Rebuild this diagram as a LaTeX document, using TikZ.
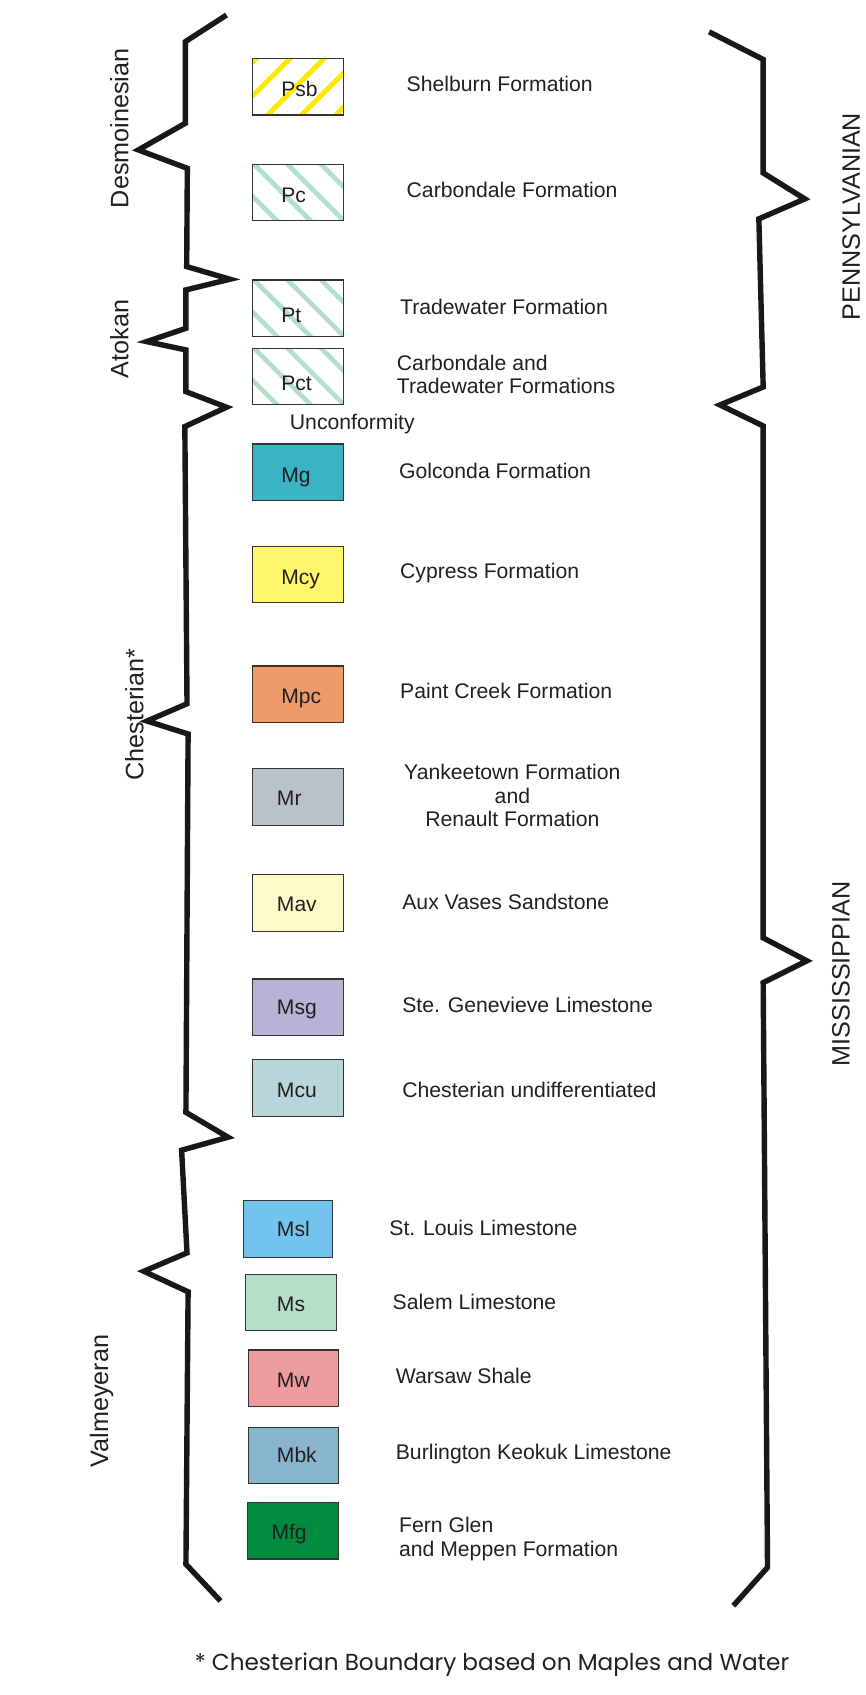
\documentclass[tikz,border=0pt]{standalone}
\usepackage{fontspec}
\usepackage{graphicx}
\setmainfont{Liberation Sans}
\newfontfamily\footfont{Poppins}
\definecolor{txt}{HTML}{231F20}
\definecolor{bracecol}{HTML}{1A1717}
\definecolor{boxedge}{HTML}{333333}
\definecolor{stripeY}{HTML}{FFE800}
\definecolor{stripeG}{HTML}{B3E0C8}
\definecolor{cMg}{HTML}{3AB3C3}
\definecolor{cMcy}{HTML}{FEF76C}
\definecolor{cMpc}{HTML}{EE9A6A}
\definecolor{cMr}{HTML}{B9C2C9}
\definecolor{cMav}{HTML}{FFFBC8}
\definecolor{cMsg}{HTML}{B7B2D6}
\definecolor{cMcu}{HTML}{B8D5D9}
\definecolor{cMsl}{HTML}{72C4EE}
\definecolor{cMs}{HTML}{B5DFC8}
\definecolor{cMw}{HTML}{EE9BA0}
\definecolor{cMbk}{HTML}{89B4CF}
\definecolor{cMfg}{HTML}{008C3C}
\begin{document}
\begin{tikzpicture}[x=1pt,y=-1pt,
  brace/.style={line width=5pt, draw=bracecol, line join=miter, miter limit=10},
  unitbox/.style={draw=boxedge, line width=1pt, minimum width=84pt, minimum height=52.4pt, inner sep=0pt, outer sep=0pt},
  boxlbl/.style={anchor=base west, inner sep=0pt, font=\fontsize{19.5}{21.6}\selectfont, text=txt},
  lbl/.style={anchor=base west, inner sep=0pt, font=\fontsize{19.6}{21.6}\selectfont, text=txt},
  clbl/.style={anchor=base, inner sep=0pt, font=\fontsize{19.6}{21.6}\selectfont, text=txt},
  era/.style={rotate=90, anchor=base, inner sep=0pt, font=\fontsize{23.3}{26}\selectfont, text=txt},
  ystripe/.style={draw=stripeY, line width=4.6pt},
  gstripe/.style={draw=stripeG, line width=4.3pt},
  foot/.style={anchor=base, inner sep=0pt, text=txt}
]
\useasboundingbox (0,0) rectangle (801,1568);

% ---------- braces ----------
\draw[brace] (209.6,13.9) -- (171.5,38.5) -- (171.5,114) -- (128,138.7) -- (173.3,155.7)
  -- (172.7,246.6) -- (212.7,258.3) -- (172,268.2) -- (172,303.7) -- (135.7,316)
  -- (172,323.7) -- (172,362.3) -- (209.6,376.7) -- (171,394.6) -- (173,651)
  -- (136,667) -- (174,679) -- (172,1029) -- (211,1052) -- (168,1064) -- (173,1159)
  -- (133,1176) -- (174,1195) -- (172,1447) -- (204,1481);
\draw[brace] (656,29.5) -- (706,55) -- (706,160) -- (744.5,184) -- (702,202.5)
  -- (706,358) -- (666,374.6) -- (706,394) -- (706,867.6) -- (746.4,888.8)
  -- (706,909) -- (710,1450) -- (678.4,1485.4);

% ---------- era labels ----------
\node[era] (desm) at (118.7,118.7) {Desmoinesian};
\node[era] (atok) at (118.7,313.6) {Atokan};
\node[era] (chest) at (132.6,661) {Chesterian*};
\node[era] (valm) at (100,1296) {Valmeyeran};
\node[era] (penn) at (795.4,200.4) {PENNSYLVANIAN};
\node[era] (miss) at (786,901) {MISSISSIPPIAN};

% ---------- hatched boxes ----------
\node[unitbox] (Psb) at (276,80.2) {};
\begin{scope}
  \clip (Psb.south west) rectangle (Psb.north east);
  \foreach \s in {3,34.5,66,97.5,129}
    \draw[ystripe] (234+\s+20,54-20) -- (234+\s-80,54+80);
\end{scope}
\node[unitbox] at (Psb) {};

\foreach \nm/\cy in {Pc/178.2, Pt/285.2, Pct/348.3}{
  \node[unitbox] (\nm) at (276,\cy) {};
  \begin{scope}
    \clip (\nm.south west) rectangle (\nm.north east);
    \foreach \d in {-30,1,32,63}
      \draw[gstripe] (234+\d-20,\cy-26.2-20) -- (234+\d+80,\cy-26.2+80);
  \end{scope}
  \node[unitbox] at (\nm) {};
}

% ---------- coloured boxes ----------
\node[unitbox, fill=cMg]  (Mg)  at (276,436.9) {};
\node[unitbox, fill=cMcy] (Mcy) at (276,531.4) {};
\node[unitbox, fill=cMpc] (Mpc) at (276,642.3) {};
\node[unitbox, fill=cMr]  (Mr)  at (276,737.5) {};
\node[unitbox, fill=cMav] (Mav) at (276,835.2) {};
\node[unitbox, fill=cMsg] (Msg) at (276,931.8) {};
\node[unitbox, fill=cMcu] (Mcu) at (276,1006.5) {};
\node[unitbox, fill=cMsl, minimum width=83pt] (Msl) at (266.5,1137) {};
\node[unitbox, fill=cMs, minimum width=83.5pt]  (Ms)  at (269.2,1205) {};
\node[unitbox, fill=cMw, minimum width=83.5pt]  (Mw)  at (271.7,1275) {};
\node[unitbox, fill=cMbk, minimum width=83.5pt] (Mbk) at (271.7,1346.5) {};
\node[unitbox, fill=cMfg, minimum width=84.5pt] (Mfg) at (271.2,1416) {};

% ---------- box labels ----------
\node[boxlbl] (lPsb) at (260,89.4) {Psb};
\node[boxlbl] (lPc)  at (260,187.1) {Pc};
\node[boxlbl] (lPt)  at (260,298.4) {Pt};
\node[boxlbl] (lPct) at (260,361.3) {Pct};
\node[boxlbl] (lMg)  at (260,446) {Mg};
\node[boxlbl] (lMcy) at (260,540.4) {Mcy};
\node[boxlbl] (lMpc) at (260,650.8) {Mpc};
\node[boxlbl] (lMr)  at (256,745) {Mr};
\node[boxlbl] (lMav) at (256,843.2) {Mav};
\node[boxlbl] (lMsg) at (256,938.7) {Msg};
\node[boxlbl] (lMcu) at (256,1015) {Mcu};
\node[boxlbl] (lMsl) at (256,1144) {Msl};
\node[boxlbl] (lMs)  at (256,1212.8) {Ms};
\node[boxlbl] (lMw)  at (256,1283.2) {Mw};
\node[boxlbl] (lMbk) at (256,1353) {Mbk};
\node[boxlbl] (lMfg) at (251,1423.7) {Mfg};

% ---------- formation names ----------
\node[lbl] (tPsb) at (376,85) {Shelburn Formation};
\node[lbl] (tPc)  at (376,183) {Carbondale Formation};
\node[lbl] (tPt)  at (370,291) {Tradewater Formation};
\node[lbl] (tPct1) at (367,342.8) {Carbondale and};
\node[lbl] (tPct2) at (367,364.4) {Tradewater Formations};
\node[lbl] (unconf) at (268,397.7) {Unconformity};
\node[lbl] (tMg)  at (369,443) {Golconda Formation};
\node[lbl] (tMcy) at (370,535) {Cypress Formation};
\node[lbl] (tMpc) at (370,646) {Paint Creek Formation};
\node[clbl] (tMr1) at (474,721.5) {Yankeetown Formation};
\node[clbl] (tMr2) at (474,743) {and};
\node[clbl] (tMr3) at (474,764.5) {Renault Formation};
\node[lbl] (tMav) at (372,841) {Aux Vases Sandstone};
\node[lbl] (tMsg) at (372,937) {Ste. Genevieve Limestone};
\node[lbl] (tMcu) at (372,1015) {Chesterian undifferentiated};
\node[lbl] (tMsl) at (360,1143) {St. Louis Limestone};
\node[lbl] (tMs)  at (363,1211) {Salem Limestone};
\node[lbl] (tMw)  at (366,1280) {Warsaw Shale};
\node[lbl] (tMbk) at (366,1350) {Burlington Keokuk Limestone};
\node[lbl] (tMfg1) at (369,1418) {Fern Glen};
\node[lbl] (tMfg2) at (369,1440) {and Meppen Formation};

% ---------- footnote ----------
\node[foot] (note) at (455,1545) {\resizebox{550pt}{!}{\fontsize{20}{24}\footfont * Chesterian Boundary based on Maples and Water}};
\end{tikzpicture}
\end{document}
